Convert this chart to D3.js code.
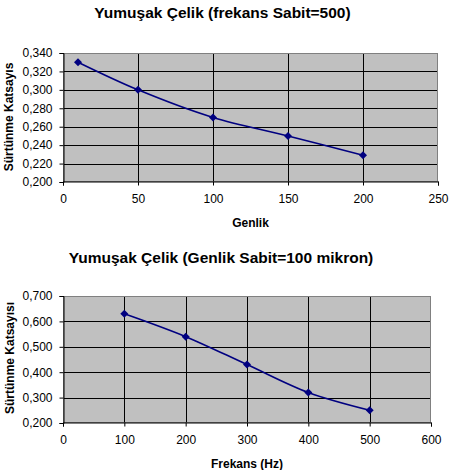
<!DOCTYPE html>
<html><head><meta charset="utf-8">
<script src="https://cdn.jsdelivr.net/npm/d3@7/dist/d3.min.js"></script>
<style>body{margin:0;background:#fff}svg{display:block}text{font-family:"Liberation Sans",Arial,sans-serif;fill:#000}</style>
</head><body>
<svg id="c" width="451" height="470"></svg>
<script>
// Chart 1
const genlik = [10, 50, 100, 150, 200];
const katsayi1 = [0.330, 0.300, 0.270, 0.250, 0.229];
const xTicks1 = [0, 50, 100, 150, 200, 250];
const yTicks1 = [0.200, 0.220, 0.240, 0.260, 0.280, 0.300, 0.320, 0.340];
// Chart 2
const frekans = [100, 200, 300, 400, 500];
const katsayi2 = [0.630, 0.540, 0.430, 0.320, 0.250];
const xTicks2 = [0, 100, 200, 300, 400, 500, 600];
const yTicks2 = [0.200, 0.300, 0.400, 0.500, 0.600, 0.700];

const svg = d3.select("#c");
const fmt = v => d3.format(".3f")(v).replace(".", ",");

function chart(o) {
  const g = svg.append("g");
  const x = d3.scaleLinear().domain(o.xDom).range([o.left, o.right]);
  const y = d3.scaleLinear().domain(o.yDom).range([o.bottom, o.top]);
  g.append("rect").attr("x", o.left).attr("y", o.top)
    .attr("width", o.right - o.left).attr("height", o.bottom - o.top)
    .attr("fill", "#c0c0c0");
  // gridlines
  g.append("g").selectAll("line").data(o.yTicks.slice(1)).join("line")
    .attr("x1", o.left).attr("x2", o.right)
    .attr("y1", d => Math.round(y(d)) + 0.5).attr("y2", d => Math.round(y(d)) + 0.5)
    .attr("stroke", "#000").attr("stroke-width", 1);
  g.append("g").selectAll("line").data(o.xTicks.slice(1, -1)).join("line")
    .attr("y1", o.top).attr("y2", o.bottom)
    .attr("x1", d => Math.round(x(d)) + 0.5).attr("x2", d => Math.round(x(d)) + 0.5)
    .attr("stroke", "#000").attr("stroke-width", 1);
  // border
  g.append("rect").attr("x", o.left + 0.5).attr("y", o.top + 0.5)
    .attr("width", o.right - o.left - 1).attr("height", o.bottom - o.top - 1)
    .attr("fill", "none").attr("stroke", "#808080");
  // axes
  const ya = d3.axisLeft(y).tickValues(o.yTicks).tickFormat(fmt).tickSize(4).tickPadding(7);
  const xa = d3.axisBottom(x).tickValues(o.xTicks).tickFormat(d3.format("d")).tickSize(4).tickPadding(9);
  const gy = g.append("g").attr("transform", `translate(${o.left + 0.5},0)`).call(ya);
  const gx = g.append("g").attr("transform", `translate(0,${o.bottom - 0.5})`).call(xa);
  [gy, gx].forEach(a => {
    a.select(".domain").attr("stroke", "#000");
    a.selectAll(".tick line").attr("stroke", "#000");
    a.selectAll("text").attr("font-size", 12).attr("font-family", "Liberation Sans, Arial, sans-serif").attr("fill", "#000");
  });
  // line
  const pts = o.xs.map((d, i) => [x(d), y(o.ys[i])]);
  g.append("path").datum(pts)
    .attr("d", d3.line().curve(d3.curveCatmullRom.alpha(0.5)))
    .attr("fill", "none").attr("stroke", "#000080").attr("stroke-width", 1.6);
  g.append("g").selectAll("path").data(pts).join("path")
    .attr("transform", d => `translate(${d[0]},${d[1]})`)
    .attr("d", "M0,-4L4,0L0,4L-4,0Z").attr("fill", "#000080");
  // titles
  g.append("text").attr("x", o.titleX).attr("y", o.titleY).attr("text-anchor", "middle")
    .attr("font-size", 15.5).attr("font-weight", "bold").text(o.title);
  g.append("text").attr("x", (o.left + o.right) / 2).attr("y", o.xLabelY).attr("text-anchor", "middle")
    .attr("font-size", 12).attr("font-weight", "bold").text(o.xLabel);
  g.append("text").attr("transform", `translate(${o.yLabelX},${o.yLabelCY}) rotate(-90)`)
    .attr("text-anchor", "middle").attr("font-size", 12).attr("font-weight", "bold").text(o.yLabel);
}

chart({
  xs: genlik, ys: katsayi1, xTicks: xTicks1, yTicks: yTicks1,
  xDom: [0, 250], yDom: [0.2, 0.34],
  left: 63, right: 438, top: 53, bottom: 182,
  title: "Yumuşak Çelik (frekans Sabit=500)", titleX: 222.5, titleY: 18,
  xLabel: "Genlik", xLabelY: 227,
  yLabel: "Sürtünme Katsayıs", yLabelX: 12.5, yLabelCY: 117
});
chart({
  xs: frekans, ys: katsayi2, xTicks: xTicks2, yTicks: yTicks2,
  xDom: [0, 600], yDom: [0.2, 0.7],
  left: 63, right: 431, top: 296, bottom: 423,
  title: "Yumuşak Çelik (Genlik Sabit=100 mikron)", titleX: 221, titleY: 263,
  xLabel: "Frekans (Hz)", xLabelY: 468,
  yLabel: "Sürtünme Katsayısı", yLabelX: 14, yLabelCY: 358
});
</script>
</body></html>
